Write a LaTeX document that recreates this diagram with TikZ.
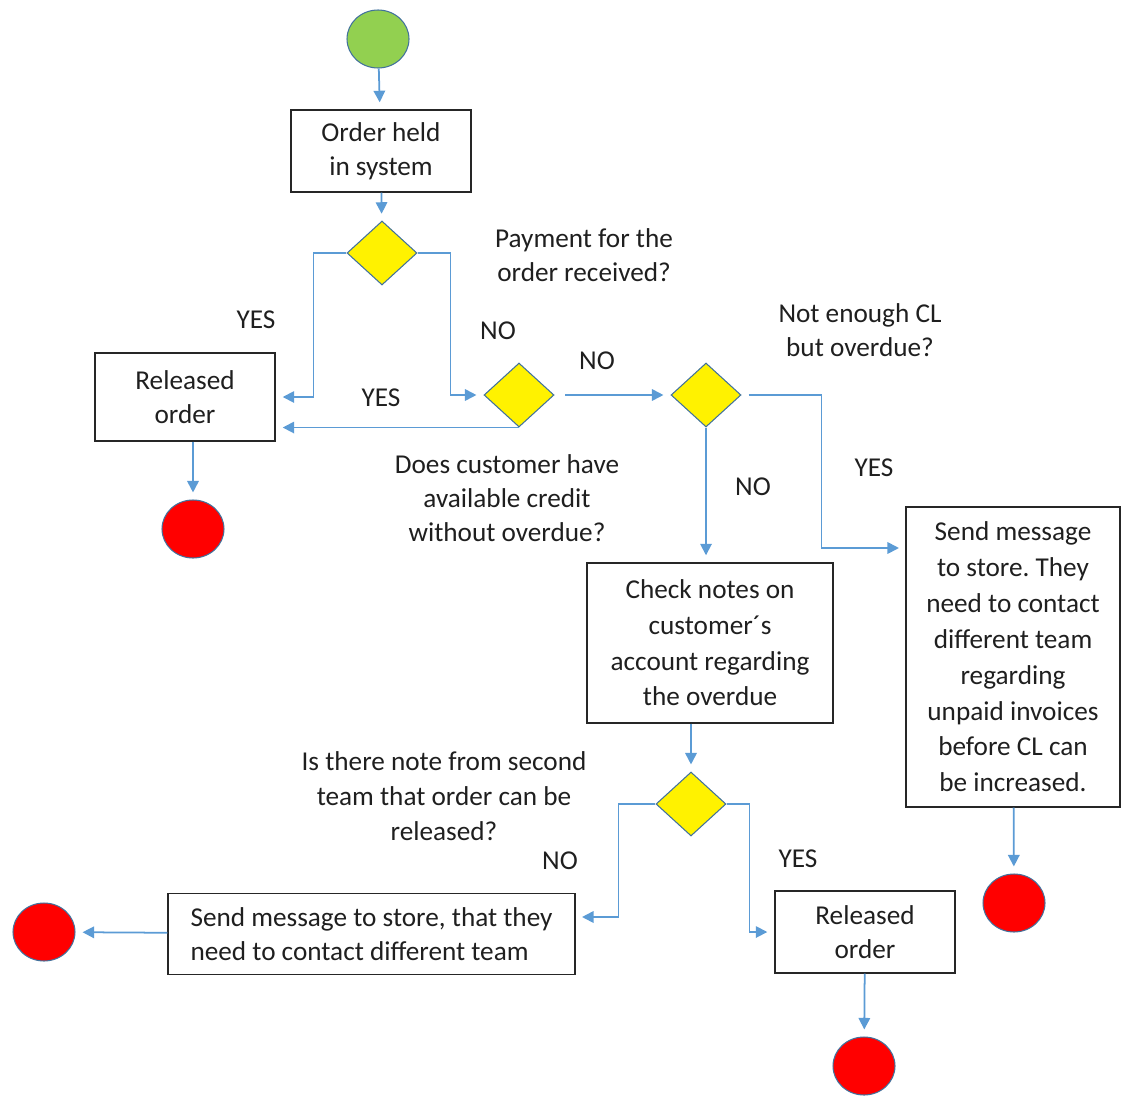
\documentclass[tikz,border=0pt]{standalone}
\usepackage{fontspec}
\setmainfont{Carlito}
\usepackage{xcolor}
\usepackage{tikz}
\usetikzlibrary{arrows.meta,shapes.geometric,positioning,calc}
\frenchspacing

\definecolor{lineblue}{HTML}{5B9BD5}
\definecolor{edgeblue}{HTML}{41719C}
\definecolor{okgreen}{HTML}{92D050}

\begin{document}
\begin{tikzpicture}[
  x=0.02cm, y=-0.02cm,
  every node/.style={font=\fontsize{15.5}{19.5}\selectfont, text=black!88, align=center},
  box/.style={draw=black!85, line width=0.8pt, inner sep=0pt},
  cond/.style={diamond, draw=edgeblue, fill=yellow, line width=0.6pt, inner sep=0pt, minimum width=1.4cm, minimum height=1.28cm},
  term/.style={ellipse, draw=edgeblue, line width=0.6pt, inner sep=0pt, minimum width=1.24cm, minimum height=1.16cm},
  arr/.style={-{Triangle[length=2.3mm,width=2.3mm]}, lineblue, line width=1pt, shorten >=4pt},
]
\useasboundingbox (0,0) rectangle (1122,1095);
\node[term, fill=okgreen] (start) at (378,39) {};
\node[box, minimum width=3.6cm, minimum height=1.64cm] (held) at (381,151) {Order held\\in system};
\node[cond] (d1) at (382,253) {};
\node[box, minimum width=3.6cm, minimum height=1.76cm] (rel1) at (185,397) {Released\\order};
\node[term, fill=red] (end1) at (193,529) {};
\node[cond] (d2) at (519,395) {};
\node[cond] (d3) at (706,395) {};
\node[box, minimum width=4.92cm, minimum height=3.2cm, font=\fontsize{15.5}{20.3}\selectfont] (check) at (710,643) {Check notes on\\customer´s\\account regarding\\the overdue};
\node[box, minimum width=4.28cm, minimum height=6cm, font=\fontsize{15.5}{20.4}\selectfont] (send1) at (1013,657) {Send message\\to store. They\\need to contact\\different team\\regarding\\unpaid invoices\\before CL can\\be increased.};
\node[term, fill=red] (end3) at (1014,903) {};
\node[cond] (d4) at (691,804) {};
\node[box, minimum width=8.14cm, minimum height=1.62cm, align=left] (send2) at (371.5,934) {Send message to store, that they\\need to contact different team};
\node[term, fill=red] (end2) at (44,932) {};
\node[box, minimum width=3.6cm, minimum height=1.64cm] (rel2) at (865,932) {Released\\order};
\node[term, fill=red] (end4) at (864,1066) {};

\coordinate (s1in) at (906,548);
\coordinate (s2in) at (575,917);

\node (q1) at (584,255) {Payment for the\\order received?};
\node (q2) at (507,498) {Does customer have\\available credit\\without overdue?};
\node (q3) at (860,330) {Not enough CL\\but overdue?};
\node[font=\fontsize{15.5}{20}\selectfont] (q4) at (444,796) {Is there note from second\\team that order can be\\released?};
\node (y1) at (256,320) {YES};
\node (n1) at (498,331) {NO};
\node (y2) at (381,398) {YES};
\node (n2) at (597,361) {NO};
\node (y3) at (874,468) {YES};
\node (n3) at (753,487) {NO};
\node (n4) at (560,861) {NO};
\node (y4) at (798,859) {YES};

\draw[arr] (start) -- (held);
\draw[arr] (held) -- (d1);
\draw[arr] (d1.west) -- ++(-33,0) |- (rel1.east);
\draw[arr] (d1.east) -- ++(33,0) |- (d2.west);
\draw[arr] (d2.south) -- (rel1.east |- d2.south);
\draw[arr] (rel1.south -| end1) -- (end1);
\draw[arr, shorten <=6pt] (d2) -- (d3);
\draw[arr, shorten <=4pt] (d3.east) -- ++(80,0) |- (s1in);
\draw[arr] (d3.south) -- (d3.south |- check.north);
\draw[arr] (d4 |- check.south) -- (d4.north);
\draw[arr] (d4.west) -- ++(-37,0) |- (s2in);
\draw[arr] (d4.east) -- ++(23,0) |- (rel2.west);
\draw[arr] (send2) -- (end2);
\draw[arr] (send1) -- (end3);
\draw[arr] (rel2) -- (end4);
\end{tikzpicture}
\end{document}
